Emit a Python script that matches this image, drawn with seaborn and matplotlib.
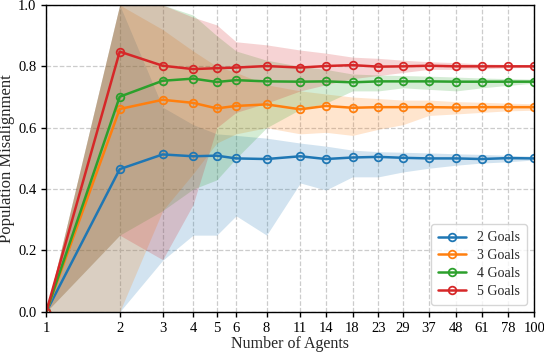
# Population misalignment vs number of agents, one line per goal count,
# shaded band = spread across runs.

import numpy as np
import pandas as pd
import matplotlib
matplotlib.use("Agg")
import matplotlib.pyplot as plt
import seaborn as sns

# data
# ---

n_agents = [1, 2, 3, 4, 5, 6, 8, 11, 14, 18, 23, 29, 37, 48, 61, 78, 100]

goals_2_mean = [0.0, 0.465, 0.513, 0.507, 0.509, 0.500, 0.498, 0.507, 0.498, 0.503, 0.505, 0.502, 0.500, 0.500, 0.498, 0.501, 0.500]
goals_2_lo = [0.0, 0.0, 0.168, 0.25, 0.25, 0.313, 0.25, 0.42, 0.397, 0.44, 0.44, 0.456, 0.468, 0.478, 0.485, 0.489, 0.495]
goals_2_hi = [0.0, 1.0, 0.667, 0.61, 0.58, 0.575, 0.566, 0.55, 0.54, 0.527, 0.522, 0.52, 0.518, 0.515, 0.513, 0.51, 0.507]

goals_3_mean = [0.0, 0.661, 0.691, 0.681, 0.663, 0.671, 0.676, 0.660, 0.671, 0.665, 0.667, 0.667, 0.667, 0.666, 0.667, 0.667, 0.667]
goals_3_lo = [0.0, 0.0, 0.33, 0.45, 0.55, 0.58, 0.60, 0.58, 0.585, 0.575, 0.595, 0.61, 0.64, 0.645, 0.65, 0.655, 0.657]
goals_3_hi = [0.0, 1.0, 0.92, 0.85, 0.80, 0.78, 0.74, 0.72, 0.71, 0.70, 0.695, 0.69, 0.69, 0.685, 0.683, 0.68, 0.678]

goals_4_mean = [0.0, 0.701, 0.753, 0.760, 0.749, 0.755, 0.751, 0.750, 0.751, 0.748, 0.751, 0.751, 0.751, 0.750, 0.750, 0.750, 0.750]
goals_4_lo = [0.0, 0.25, 0.33, 0.40, 0.43, 0.50, 0.60, 0.66, 0.68, 0.72, 0.72, 0.73, 0.725, 0.72, 0.73, 0.738, 0.745]
goals_4_hi = [0.0, 1.0, 1.0, 0.967, 0.90, 0.85, 0.82, 0.80, 0.79, 0.775, 0.772, 0.77, 0.768, 0.765, 0.762, 0.76, 0.758]

goals_5_mean = [0.0, 0.848, 0.802, 0.791, 0.794, 0.796, 0.801, 0.796, 0.801, 0.804, 0.799, 0.800, 0.802, 0.800, 0.800, 0.800, 0.800]
goals_5_lo = [0.0, 0.25, 0.17, 0.35, 0.60, 0.65, 0.68, 0.72, 0.74, 0.76, 0.77, 0.78, 0.79, 0.79, 0.792, 0.795, 0.797]
goals_5_hi = [0.0, 1.0, 1.0, 0.96, 0.935, 0.88, 0.87, 0.853, 0.843, 0.83, 0.826, 0.82, 0.815, 0.812, 0.808, 0.806, 0.804]

labels = ["2 Goals", "3 Goals", "4 Goals", "5 Goals"]
means = [goals_2_mean, goals_3_mean, goals_4_mean, goals_5_mean]
lows = [goals_2_lo, goals_3_lo, goals_4_lo, goals_5_lo]
highs = [goals_2_hi, goals_3_hi, goals_4_hi, goals_5_hi]


# plot
# ---

sns.set_style("ticks")
plt.rcParams["font.family"] = ["Liberation Serif", "DejaVu Serif"]

colors = sns.color_palette("tab10", 4)

fig, ax = plt.subplots(figsize=(5.44, 3.54), dpi=100)
fig.subplots_adjust(left=0.085, right=0.982, top=0.986, bottom=0.119)

for lab, m, lo, hi, c in zip(labels, means, lows, highs, colors):
    df = pd.DataFrame({"agents": n_agents, "mis": m, "lo": lo, "hi": hi})
    ax.fill_between(df["agents"], df["lo"], df["hi"], color=c, alpha=0.2, linewidth=0)
    sns.lineplot(data=df, x="agents", y="mis", ax=ax, color=c, label=lab,
                 marker="o", markersize=5.5, mfc="none", mec=c, mew=1.3,
                 linewidth=1.8)

ax.set_xscale("log")
ax.set_xlim(1, 100)
ax.set_ylim(0, 1.0)
ax.set_xticks(n_agents)
ax.set_xticklabels([str(n) for n in n_agents])
ax.xaxis.set_minor_locator(matplotlib.ticker.NullLocator())
ax.set_yticks(np.arange(0, 1.01, 0.2))
ax.set_yticklabels([f"{v:.1f}" for v in np.arange(0, 1.01, 0.2)])
ax.tick_params(axis="both", labelsize=10.5, direction="out", length=3.5, width=1, colors="black")

ax.set_xlabel("Number of Agents", fontsize=11.5, labelpad=1)
ax.set_ylabel("Population Misalignment", fontsize=12, labelpad=2)

ax.grid(True, linestyle="--", color="#cccccc", linewidth=0.9)
for s in ax.spines.values():
    s.set_color("black")
    s.set_linewidth(1.0)
    s.set_visible(True)

ax.legend(loc="lower right", fontsize=10, frameon=True, framealpha=0.8,
          edgecolor="#cccccc", handlelength=2.0, borderpad=0.5, labelspacing=0.35)

plt.savefig("out.png", dpi=100)
plt.close()
